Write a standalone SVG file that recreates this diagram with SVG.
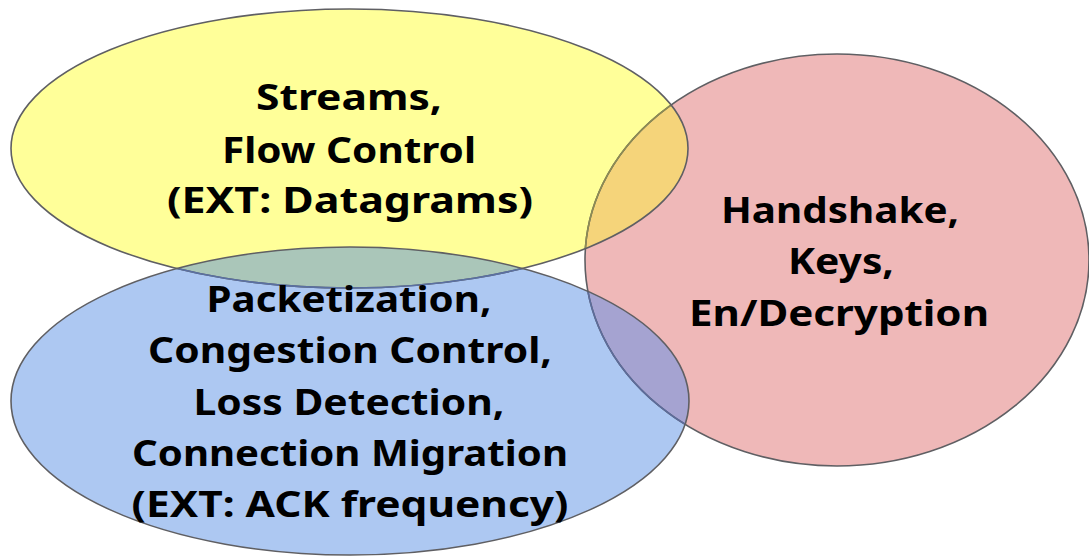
<svg xmlns="http://www.w3.org/2000/svg" width="1089" height="556" viewBox="0 0 1089 556">
<style>
.lbl{font-family:"Noto Sans","Open Sans","Liberation Sans",sans-serif;font-weight:700;font-size:36px;fill:#000;text-anchor:middle}
.edge{fill:none;stroke:#5f5f63;stroke-width:1.6}
</style>
<defs>
<clipPath id="cRed"><ellipse cx="837" cy="260" rx="252" ry="206"/></clipPath>
<clipPath id="cYel"><ellipse cx="349.5" cy="148.5" rx="338.5" ry="139.5"/></clipPath>
<clipPath id="cBlu"><ellipse cx="350" cy="401" rx="339" ry="154"/></clipPath>
</defs>
<rect width="1089" height="556" fill="#ffffff"/>
<!-- fills -->
<ellipse cx="837" cy="260" rx="252" ry="206" fill="#EFB8B8"/>
<ellipse cx="349.5" cy="148.5" rx="338.5" ry="139.5" fill="#FFFF99"/>
<ellipse cx="350" cy="401" rx="339" ry="154" fill="#ADC8F2"/>
<!-- overlaps -->
<ellipse cx="349.5" cy="148.5" rx="338.5" ry="139.5" fill="#F5D47A" clip-path="url(#cRed)"/>
<ellipse cx="350" cy="401" rx="339" ry="154" fill="#AAC6B9" clip-path="url(#cYel)"/>
<ellipse cx="350" cy="401" rx="339" ry="154" fill="#A5A3D1" clip-path="url(#cRed)"/>
<!-- outlines -->
<ellipse class="edge" cx="837" cy="260" rx="252" ry="206"/>
<ellipse cx="837" cy="260" rx="252" ry="206" fill="none" stroke="#8E8C52" stroke-width="1.6" clip-path="url(#cYel)"/>
<ellipse cx="837" cy="260" rx="252" ry="206" fill="none" stroke="#5C6C9C" stroke-width="1.6" clip-path="url(#cBlu)"/>
<ellipse class="edge" cx="349.5" cy="148.5" rx="338.5" ry="139.5"/>
<ellipse cx="349.5" cy="148.5" rx="338.5" ry="139.5" fill="none" stroke="#5A70A2" stroke-width="1.6" clip-path="url(#cBlu)"/>
<ellipse class="edge" cx="350" cy="401" rx="339" ry="154"/>
<g id="streams">
<text class="lbl" x="349" y="110" textLength="186" lengthAdjust="spacingAndGlyphs">Streams,</text>
<text class="lbl" x="349" y="163" textLength="254" lengthAdjust="spacingAndGlyphs">Flow Control</text>
<text class="lbl" x="350" y="213" textLength="366" lengthAdjust="spacingAndGlyphs">(EXT: Datagrams)</text>
</g>
<g id="handshake">
<text class="lbl" x="840" y="223" textLength="238" lengthAdjust="spacingAndGlyphs">Handshake,</text>
<text class="lbl" x="841" y="274" textLength="106" lengthAdjust="spacingAndGlyphs">Keys,</text>
<text class="lbl" x="839" y="326" textLength="300" lengthAdjust="spacingAndGlyphs">En/Decryption</text>
</g>
<g id="packetization">
<text class="lbl" x="349" y="312" textLength="285" lengthAdjust="spacingAndGlyphs">Packetization,</text>
<text class="lbl" x="350" y="363" textLength="404" lengthAdjust="spacingAndGlyphs">Congestion Control,</text>
<text class="lbl" x="349" y="415" textLength="311" lengthAdjust="spacingAndGlyphs">Loss Detection,</text>
<text class="lbl" x="350" y="466" textLength="436" lengthAdjust="spacingAndGlyphs">Connection Migration</text>
<text class="lbl" x="350" y="517" textLength="437" lengthAdjust="spacingAndGlyphs">(EXT: ACK frequency)</text>
</g>
<g id="connectors"/>
</svg>
